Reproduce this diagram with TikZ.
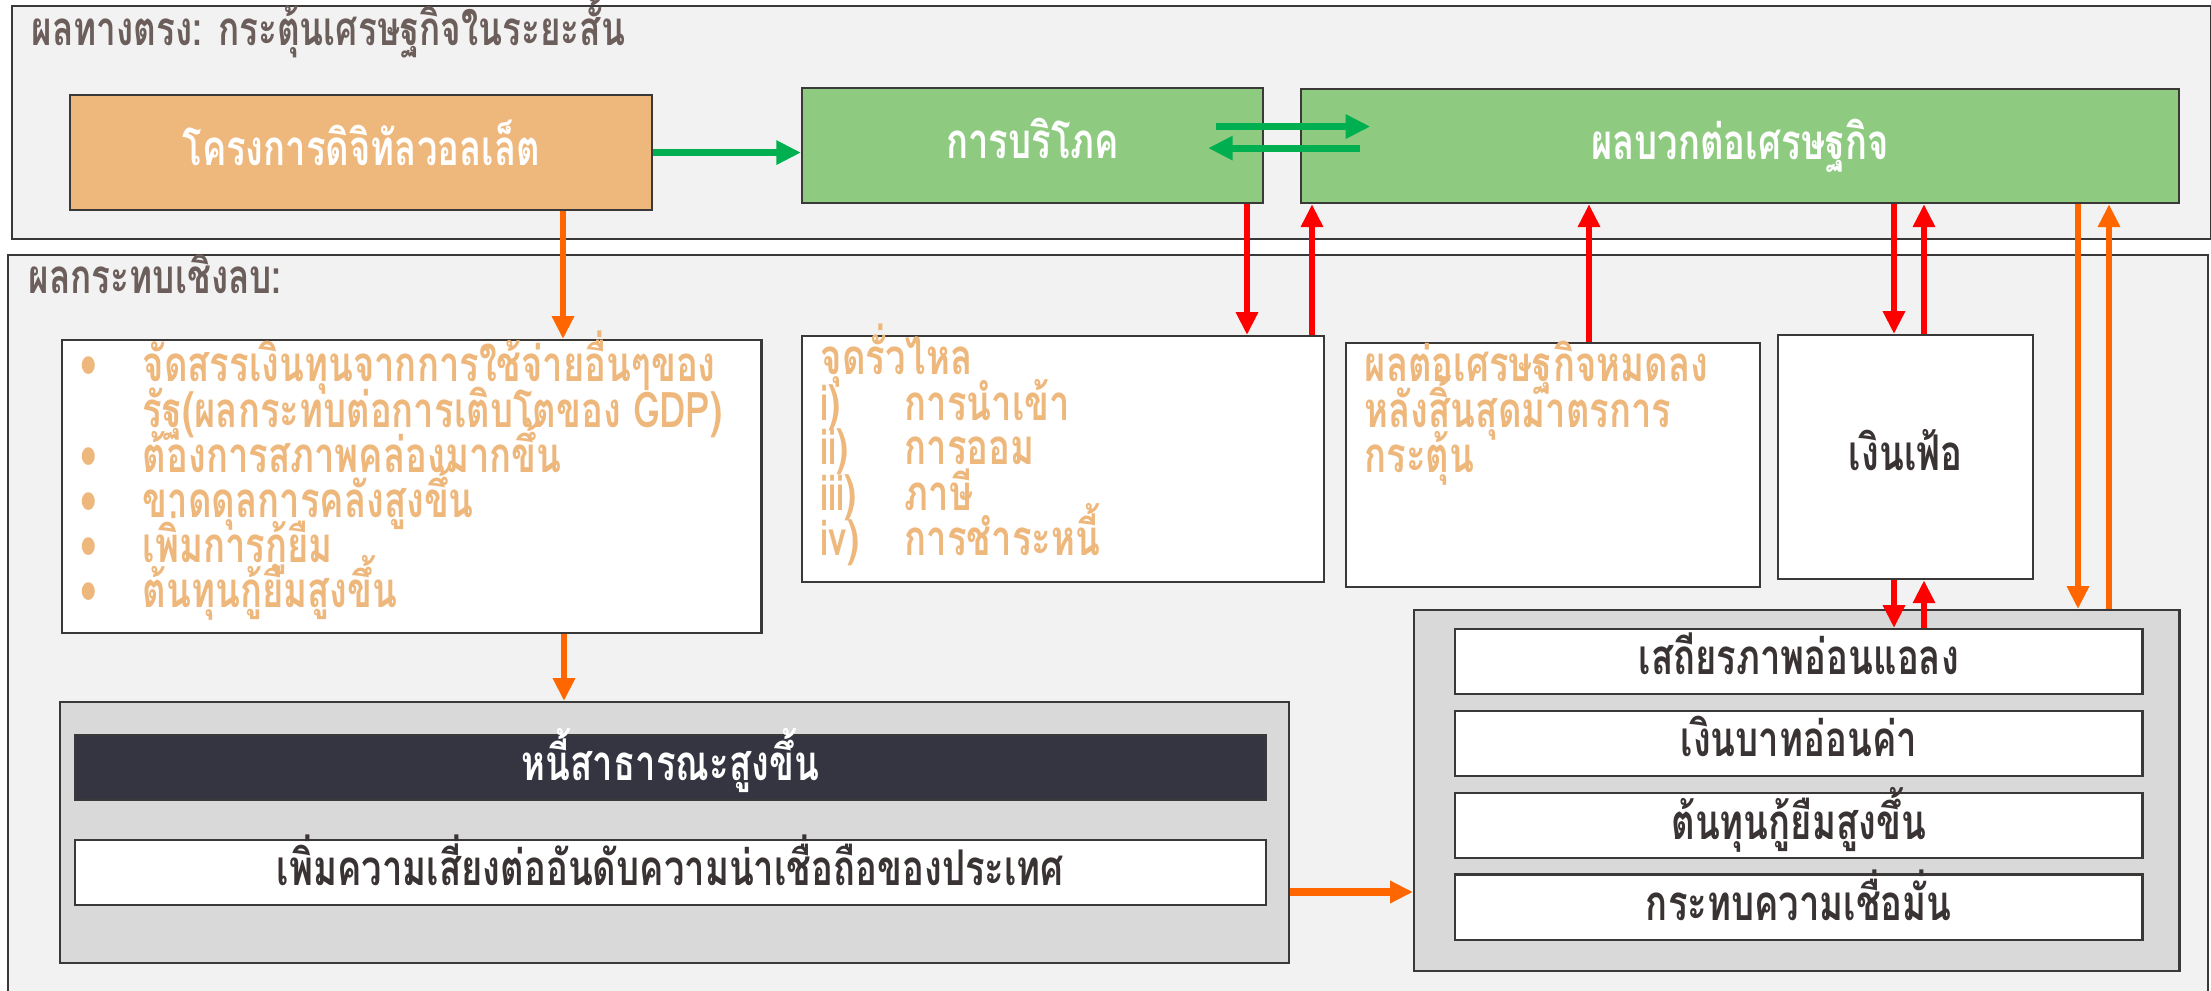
\documentclass[tikz,border=0pt]{standalone}
\usepackage{fontspec}
\usepackage{xcolor}
\newfontfamily\thaifont[Script=Thai,FakeStretch=0.74]{Loma}
\usetikzlibrary{positioning,arrows.meta}

\definecolor{panelgray}{HTML}{F2F2F2}
\definecolor{panelline}{HTML}{3B3838}
\definecolor{walletorange}{HTML}{EEB77B}
\definecolor{boxgreen}{HTML}{8ECB81}
\definecolor{arrowgreen}{HTML}{00B050}
\definecolor{arrowred}{HTML}{FF0000}
\definecolor{arroworange}{HTML}{FF6600}
\definecolor{titlebrown}{HTML}{6B5E5B}
\definecolor{innergray}{HTML}{D9D9D9}
\definecolor{darkbox}{HTML}{343541}
\definecolor{darktext}{HTML}{3A3333}

\begin{document}
\begin{tikzpicture}[x=0.01cm,y=-0.01cm,
    panel/.style={draw=panelline,line width=0.6pt,fill=panelgray,anchor=north west,inner sep=0pt},
    box/.style={draw=panelline,line width=0.6pt,anchor=north west,inner sep=0pt,
      text height=10pt,text depth=2.5pt,font=\thaifont\bfseries\fontsize{14pt}{14pt}\selectfont},
    greenbox/.style={box,fill=boxgreen,text=white},
    whitebox/.style={box,fill=white,text=darktext},
    itemtext/.style={anchor=base west,inner sep=0pt,text=walletorange,text height=8.5pt,text depth=2.5pt,
      font=\thaifont\bfseries\fontsize{14pt}{14pt}\selectfont},
    heading/.style={anchor=base west,inner sep=0pt,text=titlebrown,
      font=\thaifont\bfseries\fontsize{13.5pt}{14pt}\selectfont},
    garrow/.style={draw=arrowgreen,line width=2pt,-{Triangle[length=7pt,width=6.5pt]}},
    rarrow/.style={draw=arrowred,line width=1.7pt,-{Triangle[length=6.5pt,width=6pt]}},
    oarrow/.style={draw=arroworange,line width=1.7pt,-{Triangle[length=6.5pt,width=6pt]}}]

  \useasboundingbox (0,0) rectangle (2211,991);
  \clip (0,0) rectangle (2211,991);

  % panels
  \node[panel,minimum width=21.98cm,minimum height=2.33cm] (toppanel) at (11,5) {};
  \node[panel,minimum width=21.99cm,minimum height=7.6cm] (negpanel) at (7,254) {};
  \node[heading] (toptitle) at (31,46) {ผลทางตรง: กระตุ้นเศรษฐกิจในระยะสั้น};
  \node[heading] (negtitle) at (28,294) {ผลกระทบเชิงลบ:};

  % direct effect
  \node[box,fill=walletorange,text=white,minimum width=5.82cm,minimum height=1.15cm] (wallet) at (69,94) {โครงการดิจิทัลวอลเล็ต};
  \node[greenbox,minimum width=4.61cm,minimum height=1.15cm] (consume) at (801,87) {การบริโภค};
  \node[greenbox,minimum width=8.77cm,minimum height=1.14cm] (positive) at (1300,88) {ผลบวกต่อเศรษฐกิจ};

  % negative effects
  \node[whitebox,minimum width=6.99cm,minimum height=2.93cm] (costs) at (61,339) {};
  \node[itemtext] (dot1) at (80,382) {\textbullet};
  \node[itemtext] (cost1) at (142,382) {จัดสรรเงินทุนจากการใช้จ่ายอื่นๆของ};
  \node[itemtext] (cost2) at (142,427) {รัฐ(ผลกระทบต่อการเติบโตของ GDP)};
  \node[itemtext] (dot3) at (80,472) {\textbullet};
  \node[itemtext] (cost3) at (142,472) {ต้องการสภาพคล่องมากขึ้น};
  \node[itemtext] (dot4) at (80,517) {\textbullet};
  \node[itemtext] (cost4) at (142,517) {ขาดดุลการคลังสูงขึ้น};
  \node[itemtext] (dot5) at (80,562) {\textbullet};
  \node[itemtext] (cost5) at (142,562) {เพิ่มการกู้ยืม};
  \node[itemtext] (dot6) at (80,607) {\textbullet};
  \node[itemtext] (cost6) at (142,607) {ต้นทุนกู้ยืมสูงขึ้น};

  \node[whitebox,minimum width=5.22cm,minimum height=2.46cm] (leak) at (801,335) {};
  \node[itemtext] (leaktitle) at (820,375) {จุดรั่วไหล};
  \node[itemtext] (leaknum1) at (820,420) {i)};
  \node[itemtext] (leak1) at (904,420) {การนำเข้า};
  \node[itemtext] (leaknum2) at (820,465) {ii)};
  \node[itemtext] (leak2) at (904,465) {การออม};
  \node[itemtext] (leaknum3) at (820,510) {iii)};
  \node[itemtext] (leak3) at (904,510) {ภาษี};
  \node[itemtext] (leaknum4) at (820,555) {iv)};
  \node[itemtext] (leak4) at (904,555) {การชำระหนี้};

  \node[whitebox,minimum width=4.14cm,minimum height=2.44cm] (fade) at (1345,342) {};
  \node[itemtext] (fade1) at (1364,382) {ผลต่อเศรษฐกิจหมดลง};
  \node[itemtext] (fade2) at (1364,427) {หลังสิ้นสุดมาตรการ};
  \node[itemtext] (fade3) at (1364,472) {กระตุ้น};

  \node[whitebox,minimum width=2.55cm,minimum height=2.44cm] (inflation) at (1777,334) {เงินเฟ้อ};

  % public debt
  \node[panel,fill=innergray,minimum width=12.28cm,minimum height=2.61cm] (debtpanel) at (59,701) {};
  \node[box,fill=darkbox,text=white,minimum width=11.9cm,minimum height=0.65cm] (debt) at (74,734) {หนี้สาธารณะสูงขึ้น};
  \node[whitebox,minimum width=11.9cm,minimum height=0.65cm] (rating) at (74,839) {เพิ่มความเสี่ยงต่ออันดับความน่าเชื่อถือของประเทศ};

  % risks
  \node[panel,fill=innergray,minimum width=7.65cm,minimum height=3.61cm] (riskpanel) at (1413,609) {};
  \node[whitebox,minimum width=6.87cm,minimum height=0.65cm] (stability) at (1454,628) {เสถียรภาพอ่อนแอลง};
  \node[whitebox,minimum width=6.87cm,minimum height=0.65cm,below=0.15cm of stability] (baht) {เงินบาทอ่อนค่า};
  \node[whitebox,minimum width=6.87cm,minimum height=0.65cm,below=0.15cm of baht] (borrow) {ต้นทุนกู้ยืมสูงขึ้น};
  \node[whitebox,minimum width=6.87cm,minimum height=0.65cm,below=0.14cm of borrow] (trust) {กระทบความเชื่อมั่น};

  % arrows
  \draw[garrow] (wallet.east) -- (wallet.east -| consume.west);
  \draw[garrow] ([xshift=-0.48cm,yshift=0.19cm]consume.east) -- ++(154,0);
  \draw[garrow] ([xshift=0.6cm,yshift=-0.02cm]positive.west) -- ++(-152,0);

  \draw[rarrow] (consume.south -| 1247,0) -- (leak.north -| 1247,0);
  \draw[rarrow] (leak.north -| 1312,0) -- (positive.south -| 1312,0);
  \draw[rarrow] (fade.north -| 1589,0) -- (positive.south -| 1589,0);
  \draw[rarrow] (positive.south -| 1894,0) -- (inflation.north -| 1894,0);
  \draw[rarrow] (inflation.north -| 1924,0) -- (positive.south -| 1924,0);
  \draw[rarrow] (inflation.south -| 1894,0) -- (stability.north -| 1894,0);
  \draw[rarrow] (stability.north -| 1924,0) -- (inflation.south -| 1924,0);

  \draw[oarrow] (wallet.south -| 563,0) -- (costs.north -| 563,0);
  \draw[oarrow] (costs.south -| 564,0) -- (debtpanel.north -| 564,0);
  \draw[oarrow,line width=2pt] (debtpanel.east |- 0,892) -- (riskpanel.west |- 0,892);
  \draw[oarrow] (positive.south -| 2078,0) -- (riskpanel.north -| 2078,0);
  \draw[oarrow] (riskpanel.north -| 2109,0) -- (positive.south -| 2109,0);
\end{tikzpicture}
\end{document}
